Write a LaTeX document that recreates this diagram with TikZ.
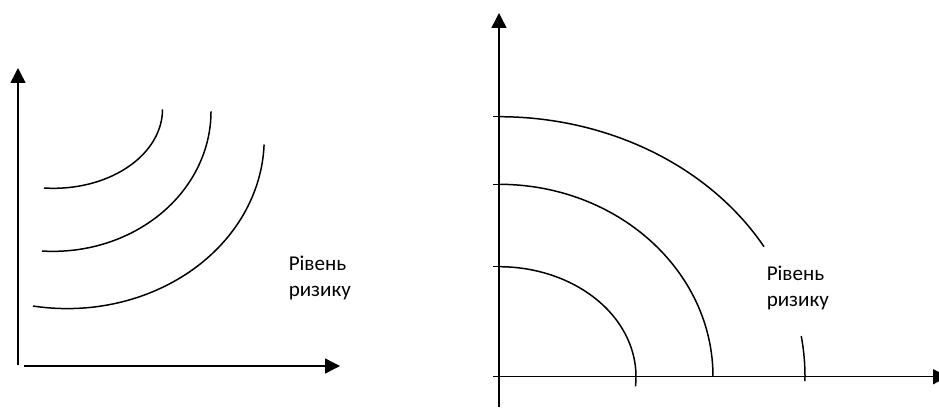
\documentclass[tikz,border=0pt]{standalone}
\usepackage{fontspec}
\setmainfont{Carlito}
\usetikzlibrary{arrows.meta}

\begin{document}
\begin{tikzpicture}[x=0.02cm, y=0.02cm, line width=0.85pt,
    axis/.style={-{Triangle[length=0.3cm, width=0.3cm]}},
    risklabel/.style={align=left, inner sep=0pt, anchor=base west,
      font=\fontsize{12}{15}\selectfont}]
  \clip (0,0) rectangle (939,417);

  % ліва діаграма
  \coordinate (OL) at (18,51);
  \draw[axis] (18,52) -- (18,349);
  \draw[axis] (24,51) -- (340,51);
  \draw (44,229) arc[start angle=265, end angle=360, x radius=109, y radius=79];
  \draw (42,166) arc[start angle=266, end angle=360, x radius=158, y radius=140];
  \draw (33,111) arc[start angle=260, end angle=358, x radius=197, y radius=170];
  \node[risklabel] (riskL) at (288,120.3) {Рівень\\ризику};

  % права діаграма
  \coordinate (OR) at (499,40.3);
  \draw[axis] (499,10) -- (499,404);
  \draw[axis] (493,40.3) -- (948,40.3);
  \foreach \h in {110,192.4,260}
    \draw (493,40.3+\h) -- (499,40.3+\h);
  \draw ([shift={(0,110)}]OR) arc[start angle=90, end angle=-5, x radius=137, y radius=110];
  \draw ([shift={(0,192.4)}]OR) arc[start angle=90, end angle=0, x radius=214, y radius=192.4];
  \draw ([shift={(0,260)}]OR) arc[start angle=90, end angle=30, x radius=306, y radius=260];
  \draw ([shift={(9:306 and 260)}]OR) arc[start angle=9, end angle=-1, x radius=306, y radius=260];
  \node[risklabel] (riskR) at (766,110.3) {Рівень\\ризику};
\end{tikzpicture}
\end{document}
